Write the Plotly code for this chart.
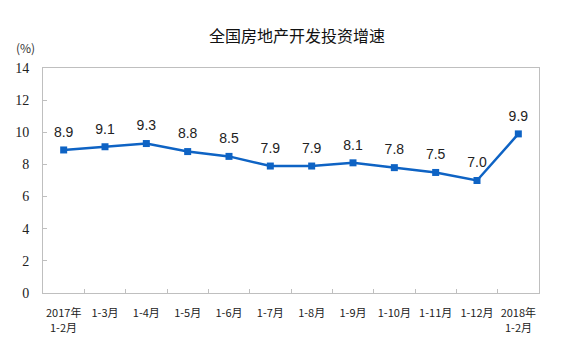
import plotly.graph_objects as go

categories = ["2017年<br>1-2月", "1-3月", "1-4月", "1-5月", "1-6月", "1-7月",
              "1-8月", "1-9月", "1-10月", "1-11月", "1-12月", "2018年<br>1-2月"]
values = [8.9, 9.1, 9.3, 8.8, 8.5, 7.9, 7.9, 8.1, 7.8, 7.5, 7.0, 9.9]
y_ticks = [0, 2, 4, 6, 8, 10, 12, 14]
labels = [f"{v:.1f}" for v in values]

line_color = "#0e63c4"
axis_color = "#bfbfbf"
tick_font = dict(family="Noto Sans CJK SC", size=11, color="#222")

fig = go.Figure()
fig.add_trace(go.Scatter(
    x=categories, y=values, mode="lines+markers",
    line=dict(color=line_color, width=2.5),
    marker=dict(symbol="square", size=7, color=line_color),
    hoverinfo="skip",
))
# value labels (invisible larger markers push labels a bit higher)
fig.add_trace(go.Scatter(
    x=categories, y=values, mode="markers+text",
    text=labels, textposition="top center",
    textfont=dict(family="Liberation Sans, Arial", size=14, color="#222"),
    marker=dict(size=14, opacity=0),
    cliponaxis=False,
))

# split two-line category labels: first line as tick text, second as annotation
first_lines = [c.split("<br>")[0] for c in categories]
annotations = [dict(text="(%)", xref="paper", yref="paper", x=-0.058, y=1.09,
                    xanchor="left", yanchor="middle", showarrow=False,
                    font=dict(family="Noto Sans CJK SC", size=12, color="#333"))]
for c in categories:
    parts = c.split("<br>")
    if len(parts) > 1:
        annotations.append(dict(text=parts[1], x=c, xref="x", y=0, yref="paper",
                                yanchor="middle", yshift=-34, showarrow=False,
                                font=tick_font))

fig.update_layout(
    width=571, height=344,
    margin=dict(l=43, r=32, t=68, b=51),
    paper_bgcolor="white", plot_bgcolor="white",
    showlegend=False,
    title=dict(text="全国房地产开发投资增速", x=0.52, xanchor="center", y=0.895, yanchor="middle",
               font=dict(family="Noto Sans CJK SC", size=16, color="#111")),
    annotations=annotations,
)
fig.update_xaxes(
    type="category", range=[-0.5, 11.5], tickvals=categories, ticktext=first_lines,
    showline=True, linecolor=axis_color, linewidth=1,
    mirror=True, ticks="inside", tickson="boundaries", ticklen=4, tickcolor=axis_color,
    showgrid=False, tickangle=0, automargin=False, ticklabelstandoff=10,
    tickfont=tick_font,
)
fig.update_yaxes(
    range=[0, 14], tickvals=y_ticks, showline=True, linecolor=axis_color, linewidth=1,
    mirror=True, ticks="inside", ticklen=4, tickcolor=axis_color, showgrid=False,
    zeroline=False, ticklabelstandoff=10, automargin=False,
    tickfont=dict(family="Liberation Serif, Times New Roman", size=14, color="#222"),
)

fig.write_html("out.html")
